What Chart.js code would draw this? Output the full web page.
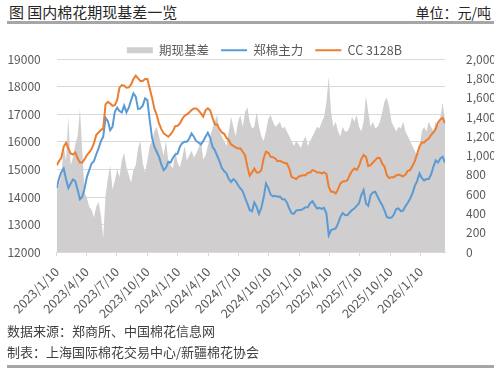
<!DOCTYPE html>
<html>
<head>
<meta charset="utf-8">
<script src="https://cdn.jsdelivr.net/npm/chart.js@4"></script>
<style>
  body { margin: 0; width: 500px; height: 374px; overflow: hidden; background: #fff; position: relative;
         font-family: "Noto Sans CJK SC", sans-serif; }
  .txt { position: absolute; line-height: 1; white-space: nowrap; }
  #title { left: 9px; top: 4px; font-size: 15px; color: #262626; }
  #unit { right: 9px; top: 5px; font-size: 14px; color: #262626; }
  .rule { position: absolute; left: 7px; width: 487px; height: 3px; background: #a6a6a6; }
  #wrap { position: absolute; left: 0; top: 32px; width: 500px; height: 297px; }
  #src { left: 7px; top: 324px; font-size: 13px; color: #404040; }
  #maker { left: 7px; top: 345px; font-size: 13px; color: #404040; }
</style>
</head>
<body>
<div class="txt" id="title">图 国内棉花期现基差一览</div>
<div class="txt" id="unit">单位：元/吨</div>
<div class="rule" style="top:21px"></div>
<div id="wrap"><canvas id="chart"></canvas></div>
<div class="txt" id="src">数据来源：郑商所、中国棉花信息网</div>
<div class="txt" id="maker">制表：上海国际棉花交易中心/新疆棉花协会</div>
<div class="rule" style="top:365px"></div>

<script>
// weekly samples starting 2023/1/10
var startDate = '2023/1/10';
var stepDays = 7;

var tickLabels = ['2023/1/10', '2023/4/10', '2023/7/10', '2023/10/10', '2024/1/10', '2024/4/10',
  '2024/7/10', '2024/10/10', '2025/1/10', '2025/4/10', '2025/7/10', '2025/10/10', '2026/1/10'];

var seriesNames = ['期现基差', '郑棉主力', 'CC 3128B'];

// 期现基差 (right axis)
var basis = [
  660, 700, 800, 1100, 950, 1400, 900, 980, 1120, 1200, 1480, 1050, 620, 560, 470, 440, 360, 470, 520, 380,
  150, 580, 760, 900, 650, 740, 860, 780, 950, 1030, 880, 800, 720, 850, 900, 1080, 1150, 920, 830, 950,
  1100, 1150, 1250, 1300, 1200, 1100, 1000, 1150, 950, 900, 870, 1050, 920, 880, 980, 1100, 950, 1000, 1050, 980,
  1020, 1080, 1150, 960, 1000, 1100, 1200, 1280, 1350, 1420, 1250, 1200, 1150, 1100, 1250, 1400, 1300, 1200, 1350, 1420,
  1300, 1450, 1500, 1350, 1280, 1300, 1450, 1300, 1200, 1150, 1250, 1380, 1420, 1350, 1300, 1320, 1350, 1280, 1300, 1250,
  1200, 1150, 1100, 1150, 1120, 1080, 1150, 1200, 1100, 1150, 1200, 1250, 1300, 1280, 1350, 1400, 1550, 1820, 1450, 1300,
  1350, 1250, 1200, 1300, 1250, 1250, 1300, 1400, 1350, 1420, 1300, 1250, 1350, 1620, 1450, 1300, 1350, 1280, 1300, 1350,
  1450, 1560, 1600, 1500, 1350, 1300, 1250, 1300, 1280, 1350, 1250, 1200, 1150, 1100, 1050, 1000, 1050, 1250, 1300, 1250,
  1350, 1300, 1250, 1350, 1300, 1400, 1550, 1350
];

// 郑棉主力 (left axis)
var zhengMian = [
  14330, 14670, 14910, 15035, 14650, 14330, 14490, 14635, 14575, 14250, 13920, 14010, 14310, 14730, 14975, 15215, 15300, 15540, 15760, 16025,
  16180, 16870, 16750, 16425, 16545, 17090, 17235, 17115, 17065, 17310, 17065, 17235, 17510, 17755, 17635, 17185, 17210, 17310, 17575, 17510,
  16790, 16150, 15820, 15640, 15460, 15180, 14975, 15060, 15275, 15250, 15420, 15540, 15580, 15820, 15955, 16000, 16000, 16120, 16305, 16185,
  16025, 15975, 15905, 16025, 16185, 16330, 16145, 15820, 15700, 15495, 15300, 15060, 14940, 14855, 14650, 14550, 14650, 14575, 14430, 14310,
  14210, 13970, 13760, 13525, 13485, 13800, 13645, 13390, 13610, 13970, 14490, 14330, 14090, 14020, 14045, 14010, 14020, 13920, 13920, 13800,
  13585, 13415, 13390, 13510, 13525, 13525, 13570, 13630, 13630, 13775, 13850, 13705, 13585, 13610, 13570, 13610, 13400, 12615, 12800, 12835,
  12860, 13040, 13280, 13420, 13350, 13340, 13440, 13525, 13585, 13680, 13775, 14065, 14250, 13765, 13680, 14065, 14165, 14190, 14020, 13850,
  13705, 13510, 13280, 13245, 13255, 13365, 13560, 13585, 13485, 13510, 13670, 13790, 13945, 14130, 14405, 14575, 14855, 14695, 14600, 14650,
  14650, 14815, 15095, 15325, 15250, 15395, 15455, 15250
];

// CC 3128B (left axis)
var cc3128b = [
  15155, 15300, 15420, 15820, 15965, 15760, 15580, 15540, 15615, 15395, 15250, 15250, 15370, 15520, 15615, 15735, 15940, 16245, 16340, 16425,
  16485, 17355, 17450, 17390, 17305, 17330, 17510, 17960, 18055, 18030, 17960, 17970, 18080, 18275, 18395, 18300, 18200, 18200, 18275, 18275,
  17935, 17600, 17210, 16970, 16665, 16460, 16305, 16245, 16185, 16270, 16390, 16570, 16580, 16665, 16825, 16945, 16995, 17065, 17150, 17210,
  17210, 17140, 17030, 16910, 17140, 17210, 17140, 16870, 16630, 16630, 16460, 16340, 16290, 16145, 16060, 15905, 15855, 15795, 15760, 15760,
  15640, 15520, 15100, 14770, 14890, 15035, 14890, 14890, 14975, 15395, 15640, 15600, 15455, 15445, 15395, 15300, 15310, 15275, 15230, 15215,
  15035, 14730, 14695, 14650, 14730, 14770, 14790, 14790, 14875, 14890, 14975, 14950, 14890, 14890, 14855, 14890, 14840, 14370, 14190, 14190,
  14130, 14285, 14490, 14560, 14570, 14610, 14790, 14940, 15035, 14985, 15120, 15370, 15520, 15455, 15120, 15155, 15250, 15335, 15420, 15410,
  15205, 15095, 14790, 14685, 14720, 14720, 14780, 14815, 14780, 14745, 14815, 14950, 14975, 15120, 15300, 15555, 15820, 15980, 15965, 16060,
  16120, 16245, 16340, 16460, 16700, 16810, 16870, 16665
];

function dayOf(s) {
  var p = s.split('/');
  var q = startDate.split('/');
  return Math.round((Date.UTC(+p[0], p[1] - 1, +p[2]) - Date.UTC(+q[0], q[1] - 1, +q[2])) / 86400000);
}

function toPoints(arr) {
  return arr.map(function (v, i) { return { x: i * stepDays, y: v }; });
}

var fontFamily = '"Noto Sans CJK SC", sans-serif';
Chart.defaults.font.family = fontFamily;
Chart.defaults.color = '#595959';

// pull the legend closer to the plot and move it right, like the original
var legendTweak = {
  id: 'legendTweak',
  beforeInit: function (chart) {
    var fit = chart.legend.fit;
    chart.legend.fit = function () {
      fit.call(this);
      this.height -= 7.5;
    };
  },
  afterLayout: function (chart) {
    chart.legend.left += 14;
    chart.legend.right += 14;
  }
};

const data = {
  datasets: [
    {
      label: seriesNames[0],
      data: toPoints(basis),
      yAxisID: 'y1',
      fill: 'origin',
      backgroundColor: '#d0cece',
      borderWidth: 0,
      pointRadius: 0,
      pointStyle: 'rect',
      order: 3
    },
    {
      label: seriesNames[1],
      data: toPoints(zhengMian),
      yAxisID: 'y',
      borderColor: '#5b9bd5',
      backgroundColor: '#5b9bd5',
      borderWidth: 2,
      pointRadius: 0,
      pointStyle: 'line',
      order: 2
    },
    {
      label: seriesNames[2],
      data: toPoints(cc3128b),
      yAxisID: 'y',
      borderColor: '#ed7d31',
      backgroundColor: '#ed7d31',
      borderWidth: 2,
      pointRadius: 0,
      pointStyle: 'line',
      order: 1
    }
  ]
};

const config = {
  type: 'line',
  data: data,
  options: {
    responsive: true,
    maintainAspectRatio: false,
    animation: false,
    layout: { padding: { left: 6.7, right: 6, top: 0, bottom: 0 } },
    plugins: {
      legend: {
        position: 'top',
        labels: {
          usePointStyle: true,
          pointStyleWidth: 26,
          boxHeight: 6,
          padding: 12,
          color: '#595959',
          font: { size: 12.5 },
          sort: function (a, b) { return a.datasetIndex - b.datasetIndex; }
        }
      },
      tooltip: { enabled: false }
    },
    scales: {
      x: {
        type: 'linear',
        min: 0,
        max: (basis.length - 1) * stepDays,
        afterBuildTicks: function (scale) {
          scale.ticks = tickLabels.map(function (l) { return { value: dayOf(l) }; });
        },
        ticks: {
          autoSkip: false,
          minRotation: 45,
          maxRotation: 45,
          padding: 8,
          font: { size: 12.5 },
          callback: function (v, i) { return tickLabels[i]; }
        },
        grid: { drawOnChartArea: false, tickLength: 4, color: '#d9d9d9' },
        border: { color: '#d9d9d9' }
      },
      y: {
        position: 'left',
        min: 12000,
        max: 19000,
        ticks: { stepSize: 1000, padding: 16, font: { size: 12 }, callback: function (v) { return String(v); } },
        grid: { color: '#d9d9d9', drawTicks: false },
        border: { display: false },
        afterFit: function (s) { s.width = 50; }
      },
      y1: {
        position: 'right',
        min: 0,
        max: 2000,
        ticks: { stepSize: 200, padding: 13, font: { size: 12 }, callback: function (v) { return v.toLocaleString('en-US'); } },
        grid: { display: false },
        border: { display: false },
        afterFit: function (s) { s.width = 49; }
      }
    }
  },
  plugins: [legendTweak]
};

const myChart = new Chart(document.getElementById('chart'), config);
</script>
</body>
</html>
